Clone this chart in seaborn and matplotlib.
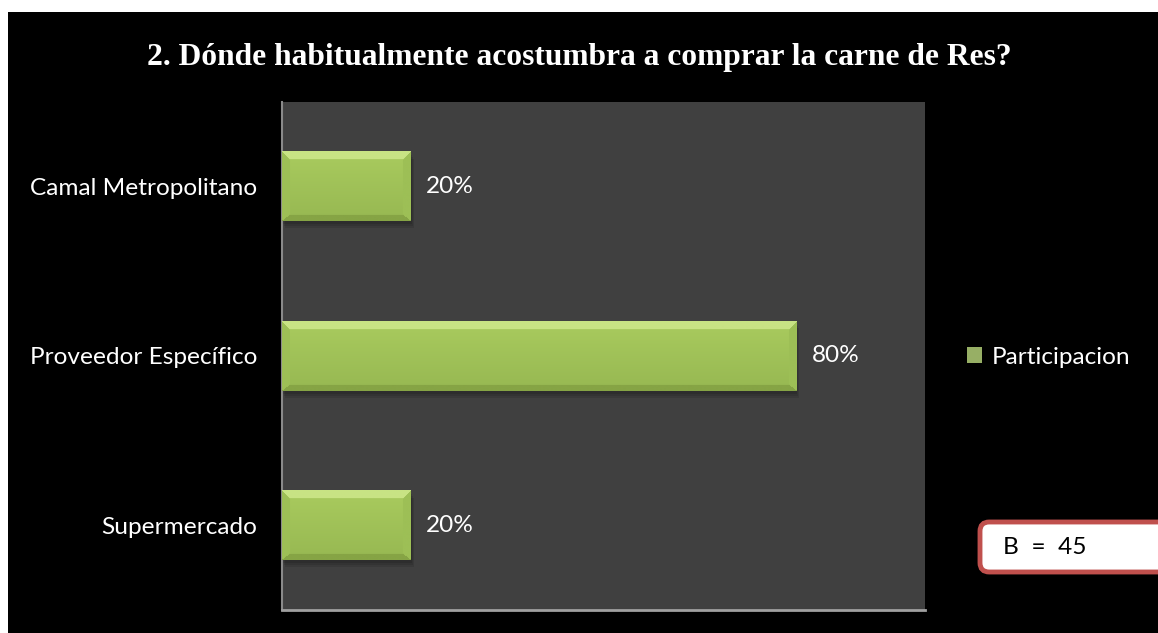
import numpy as np
import pandas as pd
import matplotlib
matplotlib.use("Agg")
import matplotlib.pyplot as plt
import seaborn as sns
from matplotlib.patches import Rectangle, FancyBboxPatch
from matplotlib.colors import to_rgb

# Survey data
categorias = ["Camal Metropolitano", "Proveedor Específico", "Supermercado"]
participacion = [0.20, 0.80, 0.20]
serie = "Participacion"
titulo = "2. Dónde habitualmente acostumbra a comprar la carne de Res?"
muestra = "B  =  45"

W_PX, H_PX = 1158, 633
FS = 17.6

sns.set_theme(style="dark")
plt.rcParams["font.family"] = ["Lato", "DejaVu Sans"]

fig = plt.figure(figsize=(W_PX / 100, H_PX / 100), dpi=100, facecolor="white")
# black chart frame
fig.patches.append(Rectangle((8 / W_PX, 0), 1, (H_PX - 12) / H_PX,
                             transform=fig.transFigure, facecolor="black",
                             edgecolor="none", zorder=-10))

ax_l, ax_r, ax_t, ax_b = 282, 925, 102, 610
ax = fig.add_axes([ax_l / W_PX, 1 - ax_b / H_PX,
                   (ax_r - ax_l) / W_PX, (ax_b - ax_t) / H_PX])

df = pd.DataFrame({"categoria": categorias, "valor": participacion, "serie": serie})
sns.barplot(data=df, x="valor", y="categoria", hue="serie", palette=["#9BBB59"],
            width=0.41, orient="h", ax=ax, legend=True, zorder=3, linewidth=0)

ax.set_facecolor("#404040")
ax.set_xlim(0, 1)
ax.set_ylim(2.5, -0.5)
ax.set_xlabel("")
ax.set_ylabel("")
ax.set_xticks([])
ax.tick_params(axis="y", length=0, pad=18, labelcolor="white", labelsize=FS)
for s in ["top", "right"]:
    ax.spines[s].set_visible(False)
ax.spines["left"].set_visible(True)
ax.spines["left"].set_color("#8a8a8a")
ax.spines["left"].set_linewidth(1.5)
ax.spines["bottom"].set_visible(True)
ax.spines["bottom"].set_color("#a0a0a0")
ax.spines["bottom"].set_linewidth(2)
ax.grid(False)

# bevelled, shaded look for each bar
px_per_x = (ax_r - ax_l) / 1.0
px_per_y = (ax_b - ax_t) / 3.0
top_c = np.array(to_rgb("#C8E384"))
bot_c = np.array(to_rgb("#86A445"))
side_c = np.array(to_rgb("#9DBF56"))
body_top = np.array(to_rgb("#A9CB5E"))
body_bot = np.array(to_rgb("#97B852"))
bars = list(ax.containers[0])
for p in bars:
    x0, y0, w, h = p.get_x(), p.get_y(), p.get_width(), p.get_height()
    # soft drop shadow
    for k, a in enumerate([0.10, 0.10, 0.10]):
        off_x = (2 + k * 2) / px_per_x
        off_y = (3 + k * 2) / px_per_y
        ax.add_patch(Rectangle((x0 + off_x / 2, y0 + off_y), w, h, facecolor="black",
                               edgecolor="none", alpha=a, zorder=2))
    Wp, Hp = max(int(w * px_per_x), 2), max(int(h * px_per_y), 2)
    rows = np.arange(Hp)[:, None] * np.ones((1, Wp))
    cols = np.ones((Hp, 1)) * np.arange(Wp)[None, :]
    dt, db = rows, Hp - 1 - rows
    dl, dr = cols, Wp - 1 - cols
    t = rows / (Hp - 1)
    img = body_top[None, None, :] * (1 - t[..., None]) + body_bot[None, None, :] * t[..., None]
    stack = np.stack([dt * 1.0, db * 1.4, dl * 1.1, dr * 1.1], axis=-1)
    side = np.argmin(stack, axis=-1)
    dmin = np.min(stack, axis=-1)
    bevel = 8
    mask = dmin < bevel
    img[mask & (side == 0)] = top_c
    img[mask & (side == 1)] = bot_c
    img[mask & ((side == 2) | (side == 3))] = side_c
    ax.imshow(img, extent=(x0, x0 + w, y0 + h, y0), aspect="auto", origin="upper",
              interpolation="bilinear", zorder=3.5)

ax.set_xlim(0, 1)
ax.set_ylim(2.5, -0.5)

ax.bar_label(ax.containers[0], labels=[f"{v:.0%}" for v in participacion],
             padding=11, color="white", fontsize=FS)

# legend at the right
leg = ax.get_legend()
handles = leg.legend_handles
leg.remove()
lg = ax.legend(handles=handles, labels=[serie], loc="center left",
               bbox_to_anchor=(950 / W_PX, 1 - 357 / H_PX), bbox_transform=fig.transFigure,
               frameon=False, fontsize=FS, labelcolor="white", handlelength=0.6,
               handleheight=0.6, handletextpad=0.4, borderpad=0.2)

fig.text(0.5, 1 - 58 / H_PX, titulo, ha="center", va="center",
         fontfamily="Liberation Serif", fontweight="bold", fontsize=22.7, color="white")

# sample size box
fig.patches.append(FancyBboxPatch((980 / W_PX, 1 - 572 / H_PX), 200 / W_PX, 50 / H_PX,
                                  boxstyle="round,pad=0,rounding_size=0.008",
                                  mutation_aspect=W_PX / H_PX,
                                  transform=fig.transFigure, facecolor="white",
                                  edgecolor="#C0504D", linewidth=3.5, zorder=5))
fig.text(1003 / W_PX, 1 - 548 / H_PX, muestra, ha="left", va="center",
         fontsize=FS, color="black", zorder=6)

fig.savefig("out.png", dpi=100, facecolor="white")
